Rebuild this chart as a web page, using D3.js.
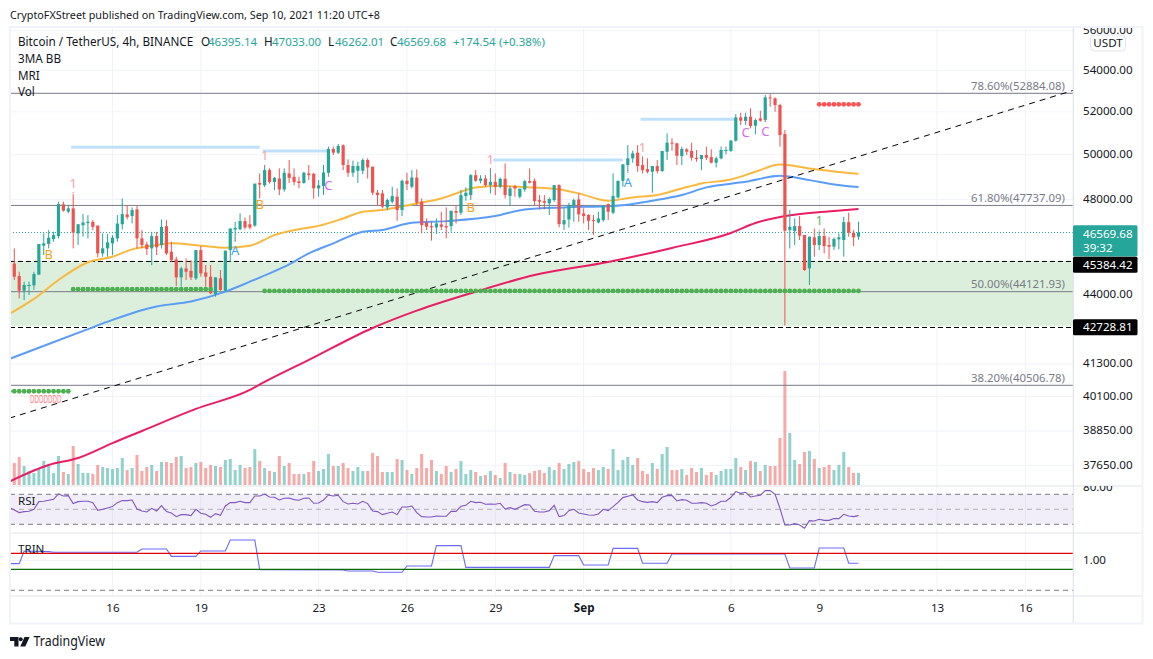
<!DOCTYPE html>
<html><head><meta charset="utf-8">
<script src="https://cdn.jsdelivr.net/npm/d3@7"></script>
<style>
html,body{margin:0;padding:0;background:#fff}
svg{display:block}
text{font-family:"Noto Sans",sans-serif;fill:#131722}
</style></head><body><div id="chart"></div>
<script>
// ---- data ----
const title = "CryptoFXStreet published on TradingView.com, Sep 10, 2021 11:20 UTC+8";
const symbolText = "Bitcoin / TetherUS, 4h, BINANCE";
const indicatorNames = ["3MA BB","MRI","Vol"];
const ohlcLetters = ["O","H","L","C"];
const ohlcValues = ["46395.14","47033.00","46262.01","46569.68"];
const changeText = ["+174.54","(+0.38%)"];
const priceTicks = [56000,54000,52000,50000,48000,44000,41300,40100,38850,37650];
const dayTickIndex = [20,38,62,80,98,116,146,164,188,206];
const dayTickLabel = ["16","19","23","26","29","Sep","6","9","13","16"];
const directions =
 "RRGGGGGGGG"+"RGRGGGRRGG"+"GGGRGRRRGR"+"GRRRGRRGRR"+"RGRGGGGRRG"+
 "RGRGRGRRRG"+"RRGGGRGRRG"+"GGRRRRGGRG"+"RGRRRRGRRG"+"RGGGRGRGRG"+
 "RGRGGRRRRG"+"GRGGGRRRRG"+"GRGGGGGRRR"+"GRGGRRGRRR"+"GRRGGGGGRG"+
 "RGRGRRRRGG"+"RRGRGRRGGG"+"RRG";
const bodyTops = [45272,44757,44392,44392,44838,46084,46112,46350,46462,47798,
 47783,47609,47609,46924,47000,47029,47029,46868,45902,46154,
 46350,46952,47362,47348,47536,47565,46322,46070,46420,46420,
 46812,46840,45762,45440,45070,45070,44973,45832,45832,44905,
 44730,44703,44662,45804,46742,46770,47058,47058,46924,48696,
 48726,49304,49304,48956,48926,49182,49152,49000,48800,49182,
 49152,49137,48622,49198,50264,50264,50403,50434,49532,49486,
 49486,49760,49760,49456,48296,48265,47971,48147,48118,48823,
 48823,48970,48970,47899,46986,46845,46958,46916,46845,47507,
 47493,48191,48294,49075,49075,48926,48926,48779,48779,48912,
 48912,48485,48588,48470,48808,48808,48823,47971,47927,48015,
 48632,48632,47101,47754,47971,48000,47391,47319,47101,47174,
 47710,47797,48147,48823,49560,49833,50062,50092,49530,49348,
 49484,49484,50169,50554,50554,50524,50262,50246,50169,49863,
 49985,49985,49894,49833,50215,50215,50646,51733,51733,51764,
 51764,51608,51686,52692,52688,52640,52320,50953,46817,46845,
 46845,46465,46394,46366,46422,46422,46042,46296,46366,47014,
 47014,46563,46569.68];
const bodyBottoms = [44730,44163,44163,44352,44379,44811,46014,46084,46294,46420,
 47508,47464,46566,46538,46882,46972,46812,45692,45692,45902,
 46112,46322,46924,47232,47275,46322,46042,45874,45902,45944,
 46042,45692,45412,44703,44703,44932,44703,44662,44865,44730,
 44055,44028,44190,44163,45832,46700,46714,46784,46784,46868,
 48652,48622,48770,48770,48440,48440,48956,48770,48726,48726,
 49076,48488,48488,48592,49182,50093,50093,49532,49182,49182,
 49274,49274,49426,48296,48192,47681,47652,47899,47536,47536,
 48676,48559,47855,46887,46818,46790,46790,46818,46790,46845,
 47420,47420,48147,48191,48823,48823,48632,48632,48559,48559,
 48191,48147,48485,48118,48441,48735,47927,47899,47855,47826,
 47971,46930,46916,47130,47725,47348,47275,47072,47058,47000,
 47101,47464,47420,48088,48823,49530,49833,49484,49303,49227,
 49227,49257,49257,50138,50524,49954,49939,50138,49863,49803,
 49803,49863,49636,49636,49833,50169,50169,50646,51577,51562,
 51328,51343,51577,51608,52640,52320,50906,46648,46676,46633,
 46436,45000,45070,46042,46042,46000,45972,45972,46282,46254,
 46563,46366,46395.14];
const highs = [45900,44932,44527,44527,44932,46084,46532,46672,46602,47900,
 47900,47754,48192,46924,47362,47319,47101,46868,46532,46504,
 46462,47319,48044,47754,47652,47710,46672,46182,46602,46602,
 47130,47101,46182,45552,45140,45482,45412,45832,46000,45210,
 45210,44703,45000,45804,46742,47029,47392,47217,47319,48696,
 49152,49532,49380,49000,49380,49380,49760,49380,49000,49228,
 49532,49182,48852,49532,50372,50372,50496,50465,49790,49730,
 49684,49836,49836,49456,48414,48412,48044,48559,48485,48882,
 49182,49303,49333,48044,47174,47029,47174,47464,47652,47507,
 47754,48412,48530,49120,49303,49075,49075,49379,49151,48970,
 49606,48588,48632,48470,48852,49379,48926,48191,48191,48088,
 48632,48662,47609,47855,48044,48265,47609,47362,47319,47464,
 47754,47826,49151,48823,49575,50446,50185,50446,49909,49833,
 49484,49757,50169,50985,50754,50524,50370,50292,50554,50215,
 49985,50370,50246,49909,50370,50370,50677,51889,51952,51952,
 52161,51686,52048,52805,52855,52688,52368,51140,47536,47174,
 47275,46465,46394,46746,46605,46746,46394,46366,46535,47246,
 47420,46676,47033];
const lows = [44595,43852,43784,43987,44190,44811,45622,45902,46182,46322,
 47464,47392,45902,46042,46392,46322,46672,45524,45552,45552,
 45622,46182,46700,47130,46958,45902,45902,45622,45202,45622,
 45902,45622,45342,44352,44325,44595,44595,44595,44730,44325,
 44028,43920,44163,44122,45342,46182,46672,46700,46700,46812,
 48044,48548,48696,48408,48192,48340,48726,48622,48488,48696,
 48852,48030,48118,48192,49030,49985,50031,49304,49000,49000,
 48726,49122,48926,48192,47754,47609,47536,47826,47072,47275,
 48412,48485,47754,46536,46677,46226,46508,46677,46324,46606,
 46958,47319,47942,47971,48779,48706,48559,48265,48191,48485,
 48044,47754,48118,48044,48338,48706,47754,47565,47565,47319,
 47899,46790,46677,46775,47029,47029,46958,46677,46465,46958,
 47029,47101,47362,48044,48559,49227,49636,49227,49151,49151,
 48294,49151,49227,49757,50185,49530,49530,49985,49727,49681,
 49303,49757,49606,49424,49787,50015,50138,50600,51374,51374,
 51218,50938,51530,51530,52240,52000,50370,42780,45900,46042,
 46253,44973,44392,45555,45833,45694,45458,45833,45861,45555,
 46394,46000,46262.01];
const volumes = [66,84,57,42,36,51,72,57,36,87,
 39,33,117,63,36,36,33,60,54,51,
 48,51,81,45,51,90,42,54,60,42,
 69,69,66,84,87,51,54,66,69,51,
 60,57,54,75,78,45,60,51,54,108,
 72,51,42,39,87,57,66,33,33,33,
 39,72,42,48,93,57,57,66,51,42,
 54,42,42,96,87,39,39,39,78,75,
 45,33,51,93,51,75,42,33,57,39,
 48,72,33,45,39,27,30,42,30,21,
 66,39,33,33,30,36,42,45,36,54,
 45,66,48,63,69,72,48,39,51,45,
 54,48,108,45,75,84,60,81,42,33,
 66,48,93,114,45,45,48,30,51,39,
 51,30,39,30,42,48,48,81,54,45,
 72,69,42,60,57,57,141,342,156,75,
 63,99,102,78,51,54,60,45,60,99,
 54,36,36];
const rsiValues = [49.1,45.6,46.9,47.3,50,60.2,60.7,62,63.3,70.4,
 67.8,68.2,57.6,60.2,60.7,60.7,58.9,48.7,50,51.8,
 53.6,58.9,61.6,61.6,62.4,50.4,47.8,46.4,51.3,47.8,
 54.9,46.9,45.1,40.2,42.9,42.9,41.6,50,44.7,43.3,
 39.3,44.2,42,54.4,58.9,58.9,60.7,58.9,58.9,67.8,
 67.8,70.4,66.4,66,62.4,64.7,65.1,62.9,62,64.7,
 65.1,58,58.4,62.4,69.1,67.8,68.7,60.2,57.1,58,
 57.1,60.7,57.6,47.8,46.9,42.9,44.7,46.4,42.9,53.1,
 53.1,54.4,45.6,40.2,39.8,39.8,41.1,40.7,40.7,47.3,
 47.3,54,55.3,60.7,58.9,59.3,56.7,57.1,56.7,58,
 50.4,52.2,50,53.1,56.2,55.8,47.3,46.4,46.4,48.2,
 55.3,40.2,41.6,48.2,50,45.1,43.8,42.4,42,43.8,
 50,48.2,53.6,59.3,65.6,67.3,69.1,62.4,60.2,59.3,
 60.2,58.9,66,68.2,68.2,61.1,62.9,62,58,58,
 58.9,58,54.4,56.7,60.7,60.7,66,73.6,71.3,72.7,
 66.4,67.8,68.7,74.9,74.9,70,51.3,29.1,29.1,30.9,
 29.1,24.7,34.9,34.4,36.7,35.3,35.3,37.6,37.6,43.3,
 41.1,40.2,41.6];
const rsiLeadIn = 52.2;
const trinBars = [-1,1,2,7,8,25,26,31,32,37,38,43,44,49,50,67,68,73,74,79,80,85,86,91,92,109,110,115,116,121,122,127,128,133,134,157,158,163,164,169,170,172];
const trinValues = [.923,.923,1.273,1.252,1.231,1.231,1.339,1.339,1.111,1.111,1.273,1.273,1.683,1.683,.792,.786,.766,.766,.742,.742,.87,.87,1.457,1.457,.841,.841,1.131,1.131,.893,.893,1.36,1.36,.933,.933,1.18,1.18,.827,.827,1.373,1.373,.933,.933];
const yellowBars = [-1,4,9,15,20,24,29,32,38,43,48,53,58,62,67,71,75,82,87,91,94,99,104,110,115,121,126,131,136,140,146,151,156,162,167,172];
const yellowPrices = [43234,43831,44595,45322,45552,45860,46042,46112,46014,45930,46014,46462,46714,46854,47174,47464,47540,47826,48044,48338,48529,48588,48544,48470,48265,47942,48088,48191,48485,48706,48882,49227,49560,49379,49242,49136];
const blueBars = [-1,7,15,20,24,29,36,43,48,52,56,60,65,71,75,81,88,98,104,112,122,130,136,141,149,156,162,167,172];
const bluePrices = [41492,42065,42640,43000,43263,43526,43724,44122,44527,44865,45238,45692,46112,46602,46680,46986,47058,47275,47565,47652,47710,47942,48191,48530,48779,49045,48853,48662,48544];
const pinkBars = [-1,7,13,20,26,37,48,51,60,73,82,94,106,121,134,146,151,156,162,167,172];
const pinkPrices = [37098,37664,37906,38426,38853,39642,40335,40631,41455,42683,43365,44119,44798,45338,45920,46553,46977,47236,47410,47496,47585];
const trendBars = [-1,216];
const trendPrices = [39310,53044];
const fibPrices = [52884.08,47737.09,44121.93,40506.78];
const fibNames = ["78.60%(52884.08)","61.80%(47737.09)","50.00%(44121.93)","38.20%(40506.78)"];
const zonePrices = [45384.42,42728.81];
const shelfStart = [12,51,98,128];
const shelfEnd = [50,64,124,147];
const shelfPrice = [50340,50170,49757,51643];
const dotRunStart = [12,51,-1];
const dotRunEnd = [40,172,11];
const dotRunPrice = [44221,44151,40287];
const redDotBars = [164,165,166,167,168,169,170,171,172];
const redDotPrice = 52356;
const dMarkBars = [4,5,6,7,8,9];
const dMarkText = "DDDDDDD";
const dMarkPrice = 39980;
const markText = ["1","B","A","B","1","C","1","B","A","1","C","C","1"];
const markBars = [12,7,45,50,51,64,97,93,125,128,149,153,164];
const markPrices = [48727,45627,45832,47796,49944,48596,49806,47670,48769,50339,51033,51096,47077];
const markColors = ["#f7a1a8","#ff9f1c","#3da5f0","#ff9f1c","#f7a1a8","#d66bf5","#f7a1a8","#ff9f1c","#3da5f0","#f7a1a8","#d66bf5","#d66bf5","#66b56a"];
const rsiLevels = [70,50,30];
const trinLevels = [1.2,.8];
const lastPrice = 46569.68, countdown = "39:32";

// ---- layout ----
const W=1153,H=659;
const left=10,right=1073,outerR=1142,paneTop=27,mainB=486,rsiB=533,trinB=596,axisB=624;
const red="#ef5350",green="#26a69a";
const svg=d3.select("#chart").append("svg").attr("width",W).attr("height",H);

const x=d3.scaleLinear().domain([0,172]).range([14.3,858.5]);
const y=d3.scaleLog().domain([52884.08,40506.78]).range([93.3,385.3]);
const yVol=d3.scaleLinear().domain([0,342]).range([485,371]);
const yRsi=d3.scaleLinear().domain([70,30]).range([494.3,524.3]);
const yTrin=d3.scaleLog().domain([1.2,.8]).range([553.3,569.3]);

const defs=svg.append("defs");
function clip(id,x0,y0,x1,y1){defs.append("clipPath").attr("id",id).append("rect").attr("x",x0).attr("y",y0).attr("width",x1-x0).attr("height",y1-y0);}
clip("cMain",left,paneTop,right,mainB);clip("cRsi",left,mainB,right,rsiB);clip("cTrin",left,rsiB,right,trinB);
clip("cAxisMain",right,paneTop+1,outerR,mainB);clip("cAxisRsi",right,mainB,outerR,rsiB);

// grid
const grid=svg.append("g").attr("stroke","#f0f3fa").attr("stroke-width",1);
grid.selectAll("line.v").data(dayTickIndex).join("line").attr("class","v").attr("x1",d=>x(d)).attr("x2",d=>x(d)).attr("y1",paneTop).attr("y2",trinB);
grid.selectAll("line.h").data(priceTicks).join("line").attr("class","h").attr("x1",left).attr("x2",right).attr("y1",d=>y(d)).attr("y2",d=>y(d));
grid.append("line").attr("x1",left).attr("x2",right).attr("y1",yTrin(1)).attr("y2",yTrin(1));

// main pane
const main=svg.append("g").attr("clip-path","url(#cMain)");
main.append("rect").attr("x",left).attr("width",right-left).attr("y",y(zonePrices[0])).attr("height",y(zonePrices[1])-y(zonePrices[0])-1).attr("fill","#dcefdc");

const bars=d3.range(directions.length);
const isUp=i=>directions[i]==="G";
main.selectAll("rect.vol").data(bars).join("rect").attr("class","vol")
 .attr("x",i=>x(i)-1.5).attr("width",3).attr("y",i=>yVol(volumes[i])).attr("height",i=>yVol(0)-yVol(volumes[i]))
 .attr("fill",i=>isUp(i)?green:red).attr("opacity",.5);

main.selectAll("line.fib").data(fibPrices).join("line").attr("class","fib")
 .attr("x1",left).attr("x2",right).attr("y1",d=>y(d)).attr("y2",d=>y(d)).attr("stroke","#787b86").attr("stroke-width",1);
main.selectAll("text.fib").data(fibNames).join("text").attr("class","fib")
 .attr("x",1065).attr("y",(d,i)=>y(fibPrices[i])-7.5).attr("dy",".35em").attr("text-anchor","end")
 .attr("font-size",11.4).style("fill","#787b86").text(d=>d);

// shelves
main.selectAll("line.shelf").data(shelfPrice).join("line").attr("class","shelf")
 .attr("x1",(d,i)=>x(shelfStart[i])-2).attr("x2",(d,i)=>x(shelfEnd[i])).attr("y1",d=>y(d)).attr("y2",d=>y(d))
 .attr("stroke","#bfe0fa").attr("stroke-width",3);

// dashed zone edges and last price
main.selectAll("line.zone").data(zonePrices).join("line").attr("class","zone")
 .attr("x1",left).attr("x2",right).attr("y1",d=>y(d)+.7).attr("y2",d=>y(d)+.7).attr("stroke","#000").attr("stroke-width",1).attr("stroke-dasharray","5 3");
main.append("line").attr("x1",left).attr("x2",right).attr("y1",y(lastPrice)).attr("y2",y(lastPrice))
 .attr("stroke",green).attr("stroke-dasharray","1 2");

// moving averages
const maLine=d3.line().x(d=>x(d[0])).y(d=>y(d[1])).curve(d3.curveMonotoneX);
[[yellowBars,yellowPrices,"#f9b83f"],[blueBars,bluePrices,"#5b9cf6"],[pinkBars,pinkPrices,"#e91e63"]].forEach(([b,p,c])=>{
  main.append("path").datum(b.map((v,i)=>[v,p[i]])).attr("d",maLine).attr("fill","none").attr("stroke",c).attr("stroke-width",2);
});

// trend line
main.append("path").datum(trendBars.map((v,i)=>[v,trendPrices[i]]))
 .attr("d",d3.line().x(d=>x(d[0])).y(d=>y(d[1]))).attr("fill","none").attr("stroke","#000").attr("stroke-width",1).attr("stroke-dasharray","6 5");

// candles
main.selectAll("line.wick").data(bars).join("line").attr("class","wick")
 .attr("x1",i=>x(i)).attr("x2",i=>x(i)).attr("y1",i=>y(highs[i])).attr("y2",i=>y(lows[i]))
 .attr("stroke",i=>isUp(i)?green:red).attr("stroke-width",1);
main.selectAll("rect.body").data(bars).join("rect").attr("class","body")
 .attr("x",i=>x(i)-1.6).attr("width",3.2).attr("y",i=>y(bodyTops[i]))
 .attr("height",i=>Math.max(1,y(bodyBottoms[i])-y(bodyTops[i])))
 .attr("fill",i=>isUp(i)?green:red);

// dot rows
dotRunPrice.forEach((p,k)=>{
  main.selectAll("circle.run"+k).data(d3.range(dotRunStart[k],dotRunEnd[k]+1)).join("circle")
   .attr("class","run"+k).attr("cx",i=>x(i)).attr("cy",y(p)).attr("r",2.4).attr("fill","#4caf50");
});
main.selectAll("circle.reddot").data(redDotBars).join("circle").attr("class","reddot")
 .attr("cx",i=>x(i)).attr("cy",y(redDotPrice)).attr("r",2.4).attr("fill","#ff5252");
main.append("text").attr("x",x(dMarkBars[0])-4).attr("y",y(dMarkPrice)).attr("dy",".35em")
 .attr("font-size",10).attr("textLength",x(dMarkBars[dMarkBars.length-1])-x(dMarkBars[0])+7).attr("lengthAdjust","spacingAndGlyphs")
 .style("fill","#fb7a7a").text(dMarkText);

// letter marks and their small stems
main.selectAll("line.stem").data(markText).join("line").attr("class","stem")
 .attr("x1",(d,i)=>x(markBars[i])).attr("x2",(d,i)=>x(markBars[i]))
 .attr("y1",(d,i)=>y(markPrices[i])+(d==="1"?9:-9)).attr("y2",(d,i)=>y(markPrices[i])+(d==="1"?13:-13))
 .attr("stroke",(d,i)=>i===12?"#66b56a":"#f06a6a").attr("stroke-width",1).attr("stroke-dasharray","1 1");
main.selectAll("text.mark").data(markText).join("text").attr("class","mark")
 .attr("x",(d,i)=>x(markBars[i])).attr("y",(d,i)=>y(markPrices[i])).attr("dy",".35em").attr("text-anchor","middle")
 .attr("font-size",13).style("fill",(d,i)=>markColors[i]).text(d=>d);

// RSI pane
const rsiG=svg.append("g").attr("clip-path","url(#cRsi)");
rsiG.append("rect").attr("x",left).attr("width",right-left).attr("y",yRsi(70)).attr("height",yRsi(30)-yRsi(70)).attr("fill","#7e57c2").attr("opacity",.1);
rsiG.selectAll("line.l").data(rsiLevels).join("line").attr("class","l")
 .attr("x1",left).attr("x2",right).attr("y1",d=>yRsi(d)).attr("y2",d=>yRsi(d))
 .attr("stroke","#787b86").attr("stroke-dasharray","5 4").attr("opacity",d=>d===50?.55:1);
rsiG.append("path").datum([[-1,rsiLeadIn]].concat(rsiValues.map((v,i)=>[i,v]))).attr("fill","none").attr("stroke","#7e57c2").attr("stroke-width",1.1)
 .attr("d",d3.line().x(d=>x(d[0])).y(d=>yRsi(d[1])));

// TRIN pane
const trinG=svg.append("g").attr("clip-path","url(#cTrin)");
trinG.append("line").attr("x1",left).attr("x2",right).attr("y1",yTrin(.47)).attr("y2",yTrin(.47)).attr("stroke","#787b86").attr("stroke-dasharray","5 4");
trinG.append("path").datum(trinBars.map((v,i)=>[v,trinValues[i]])).attr("fill","none").attr("stroke","#6a6cf6").attr("stroke-width",1.1)
 .attr("d",d3.line().x(d=>x(d[0])).y(d=>yTrin(d[1])));
trinG.selectAll("line.t").data(trinLevels).join("line").attr("class","t")
 .attr("x1",left).attr("x2",right).attr("y1",d=>yTrin(d)).attr("y2",d=>yTrin(d))
 .attr("stroke",(d,i)=>i===0?"#e00000":"#0b6b0b").attr("stroke-width",1.2);

// frame and separators
const sep=svg.append("g").attr("stroke","#e0e3eb");
sep.selectAll("line.p").data([mainB,rsiB,trinB]).join("line").attr("class","p").attr("x1",left).attr("x2",outerR).attr("y1",d=>d).attr("y2",d=>d).attr("stroke-width",1.2);
sep.append("line").attr("x1",right+.3).attr("x2",right+.3).attr("y1",paneTop).attr("y2",axisB).attr("stroke-width",1.2);
svg.append("rect").attr("x",10).attr("y",27).attr("width",1132.5).attr("height",596.5).attr("fill","none").attr("stroke","#f0f3fa").attr("stroke-width",2);

// right axes (real d3 axes)
const fmt2=d3.format(".2f");
const axP=svg.append("g").attr("clip-path","url(#cAxisMain)").append("g").attr("transform",`translate(${right},-1)`)
 .call(d3.axisRight(y).tickValues(priceTicks).tickFormat(fmt2).tickSize(0).tickPadding(10));
const axR=svg.append("g").attr("clip-path","url(#cAxisRsi)").append("g").attr("transform",`translate(${right},0)`)
 .call(d3.axisRight(yRsi).tickValues([80]).tickFormat(fmt2).tickSize(0).tickPadding(10));
const axT=svg.append("g").attr("transform",`translate(${right},-1.2)`)
 .call(d3.axisRight(yTrin).tickValues([1]).tickFormat(fmt2).tickSize(0).tickPadding(10));
const axX=svg.append("g").attr("transform",`translate(0,${trinB-2})`)
 .call(d3.axisBottom(x).tickValues(dayTickIndex).tickFormat((d,i)=>dayTickLabel[i]).tickSize(0).tickPadding(10));
[axP,axR,axT,axX].forEach(a=>{a.select(".domain").remove();a.selectAll("text").attr("font-size",11.6).style("font-family",'"Noto Sans",sans-serif').style("fill","#131722");});
axX.selectAll("text").filter(d=>dayTickLabel[dayTickIndex.indexOf(d)]==="Sep").attr("font-weight",700);

// USDT button
svg.append("rect").attr("x",1090.5).attr("y",35).attr("width",35).attr("height",16).attr("rx",4).attr("fill","#fff").attr("stroke","#e0e3eb");
svg.append("text").attr("x",1108).attr("y",43).attr("dy",".35em").attr("text-anchor","middle").attr("font-size",11.6).text("USDT");

// price tags
const tagX=right,tagW=64.5;
svg.append("rect").attr("x",tagX).attr("y",y(lastPrice)-7.4).attr("width",tagW).attr("height",31.4).attr("rx",1.5).attr("fill",green);
svg.append("text").attr("x",1083).attr("y",y(lastPrice)+1).attr("dy",".35em").attr("font-size",11.6).style("fill","#fff").text(lastPrice.toFixed(2));
svg.append("text").attr("x",1083).attr("y",y(lastPrice)+15).attr("dy",".35em").attr("font-size",11.6).style("fill","#fff").text(countdown);
svg.selectAll("rect.tag").data(zonePrices).join("rect").attr("class","tag")
 .attr("x",tagX).attr("width",tagW).attr("y",(d,i)=>y(d)+(i===0?-4:-7.5)).attr("height",16).attr("rx",1.5).attr("fill","#000");
svg.selectAll("text.tag").data(zonePrices).join("text").attr("class","tag")
 .attr("x",1083).attr("y",(d,i)=>y(d)+(i===0?4:.5)).attr("dy",".35em").attr("font-size",11.6).style("fill","#fff").text(d=>d.toFixed(2));

// header text
svg.append("text").attr("x",10).attr("y",15).attr("dy",".35em").attr("font-size",11.6)
 .attr("textLength",370).attr("lengthAdjust","spacingAndGlyphs").text(title);
const legend=svg.append("g").attr("font-size",11.7);
legend.append("text").attr("x",18).attr("y",41.7).attr("dy",".35em").text(symbolText);
const letterX=[201,264,328,390], valueX=[208,272,335,397];
ohlcLetters.forEach((l,i)=>{
  legend.append("text").attr("x",letterX[i]).attr("y",41.7).attr("dy",".35em").text(l);
  legend.append("text").attr("x",valueX[i]).attr("y",41.7).attr("dy",".35em").style("fill",green).attr("font-size",11.5).text(ohlcValues[i]);
});
legend.append("text").attr("x",453).attr("y",41.7).attr("dy",".35em").style("fill",green).attr("font-size",11.5).text(changeText[0]);
legend.append("text").attr("x",499).attr("y",41.7).attr("dy",".35em").style("fill",green).attr("font-size",11.5).text(changeText[1]);
legend.selectAll("text.ind").data(indicatorNames).join("text").attr("class","ind").attr("x",18)
 .attr("y",(d,i)=>[59,76,92.3][i]).attr("dy",".35em").text(d=>d);
svg.append("text").attr("x",18).attr("y",501).attr("dy",".35em").attr("font-size",11.6).text("RSI");
svg.append("text").attr("x",18).attr("y",549).attr("dy",".35em").attr("font-size",11.6).text("TRIN");

// footer logo
const logo=svg.append("g").attr("fill","#131722");
logo.append("path").attr("d","M10 637h8.5v9.5h-4.2v-5.6H10z");
logo.append("circle").attr("cx",20.7).attr("cy",639.2).attr("r",2);
logo.append("path").attr("d","M24.5 637H29.6L25.3 646.5H20.3z");
svg.append("text").attr("x",33.5).attr("y",641.5).attr("dy",".35em").attr("font-size",13.5)
 .attr("textLength",71.5).attr("lengthAdjust","spacingAndGlyphs").text("TradingView");
</script></body></html>
